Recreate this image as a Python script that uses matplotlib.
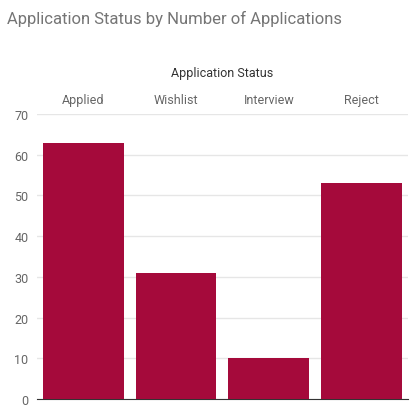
import matplotlib
matplotlib.use("Agg")
import matplotlib.pyplot as plt

statuses = ["Applied", "Wishlist", "Interview", "Reject"]
counts = [63, 31, 10, 53]

plt.rcParams['font.family'] = ['Roboto', 'DejaVu Sans']

fig = plt.figure(figsize=(4.15, 4.14), dpi=100)
ax = fig.add_axes([0.089, 0.034, 0.894, 0.688])

x = range(len(statuses))
ax.bar(x, counts, width=0.87, color="#a50a3b", zorder=3)
ax.set_xlim(-0.5, len(statuses) - 0.5)
ax.set_ylim(0, 70)
ax.set_yticks(range(0, 71, 10))
ax.grid(axis="y", color="#e6e6e6", linewidth=1, zorder=0)

ax.xaxis.tick_top()
ax.xaxis.set_label_position("top")
ax.set_xticks(list(x))
ax.set_xticklabels(statuses)
ax.set_xlabel("Application Status", fontsize=9, color="#333333", labelpad=12)
ax.tick_params(axis="x", length=0, labelsize=9, labelcolor="#666666", pad=6)
ax.tick_params(axis="y", length=0, labelsize=9, labelcolor="#666666", pad=6)

for s in ["top", "right", "left"]:
    ax.spines[s].set_visible(False)
ax.spines["bottom"].set_color("#333333")

fig.text(0.017, 0.955, "Application Status by Number of Applications",
         fontsize=12, color="#757575", va="center")

fig.savefig("out.png", dpi=100)
